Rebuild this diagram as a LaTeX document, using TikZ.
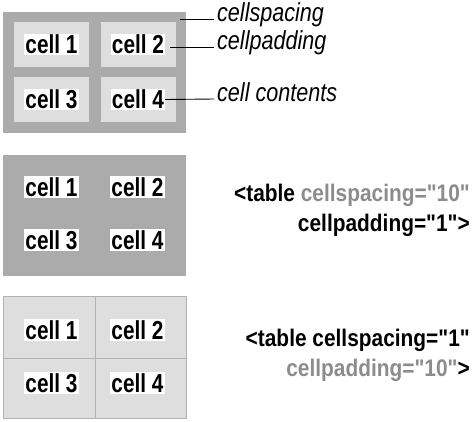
\documentclass[tikz,border=0pt]{standalone}
\usepackage{fontspec}
\usetikzlibrary{positioning}
\newfontfamily\cellfont{Liberation Sans}[FakeStretch=0.8,Ligatures=TeXOff]
\newfontfamily\codefont{Liberation Sans}[FakeStretch=0.87,Ligatures=TeXOff]
\newfontfamily\notefont{Liberation Sans}[FakeStretch=0.83]
\definecolor{darkgrey}{HTML}{ABABAB}
\definecolor{lightgrey}{HTML}{DEDEDE}
\definecolor{linegrey}{HTML}{B2B2B2}
\definecolor{textgrey}{HTML}{8C8C8C}
\tikzset{
    tablebox/.style={fill=darkgrey, minimum width=183pt, minimum height=121pt, inner sep=0pt},
    padbox/.style={fill=lightgrey, minimum width=75pt, minimum height=45pt, inner sep=0pt},
    gridbox/.style={fill=lightgrey, draw=linegrey, line width=1pt, inner sep=0pt},
    celltext/.style={fill=white, inner sep=1pt, font=\cellfont\bfseries\fontsize{26}{26}\selectfont},
    codetext/.style={align=right, inner sep=0pt, font=\codefont\bfseries\fontsize{24}{30}\selectfont},
    note/.style={inner sep=3pt, font=\notefont\itshape\fontsize{26}{26}\selectfont},
    pointer/.style={black, line width=0.9pt},
}
\begin{document}
\begin{tikzpicture}[x=1pt,y=-1pt]
    \useasboundingbox (0,0) rectangle (474,421);
    % cellspacing / cellpadding sketch
    \node[tablebox] (tab1) at (94.5,72) {};
    \foreach \i/\x/\y in {1/51.5/44.5, 2/138/44.5, 3/51.5/99.5, 4/138/99.5}{
        \node[padbox] (pad\i) at (\x,\y) {};
        \node[celltext] (a\i) at (\x,\y) {cell \i};
    }
    \node[note, anchor=mid west] (spacing) at (214,19) {cellspacing};
    \node[note, anchor=mid west] (padding) at (214,47) {cellpadding};
    \node[note, anchor=mid west] (contents) at (214,99) {cell contents};
    \coordinate (spc) at (180,19);
    \coordinate (pdc) at (170,47);
    \draw[pointer] (spc) -- (spacing.mid west);
    \draw[pointer] (pdc) -- (padding.mid west);
    \draw[pointer] (a4.east) -- (contents.mid west);

    % cellspacing="10"
    \node[tablebox] (tab2) at (94.5,215) {};
    \foreach \i/\x/\y in {1/51.5/187, 2/137.5/187, 3/51.5/240, 4/137.5/240}
        \node[celltext] (b\i) at (\x,\y) {cell \i};
    \node[codetext, anchor=east] (code2) at (470,210)
        {<table {\color{textgrey}cellspacing="10"}\\cellpadding="1">};

    % cellpadding="10"
    \node[gridbox, minimum width=92pt, minimum height=62pt] (g1) at (49,327) {};
    \node[gridbox, minimum width=91pt, minimum height=62pt] (g2) at (140.5,327) {};
    \node[gridbox, minimum width=92pt, minimum height=60pt] (g3) at (49,388) {};
    \node[gridbox, minimum width=91pt, minimum height=60pt] (g4) at (140.5,388) {};
    \foreach \i/\x/\y in {1/51.5/330, 2/137.5/330, 3/51.5/383, 4/137.5/383}
        \node[celltext] (c\i) at (\x,\y) {cell \i};
    \node[codetext, anchor=east] (code3) at (470,355)
        {<table cellspacing="1"\\{\color{textgrey}cellpadding="10"}>};
\end{tikzpicture}
\end{document}
